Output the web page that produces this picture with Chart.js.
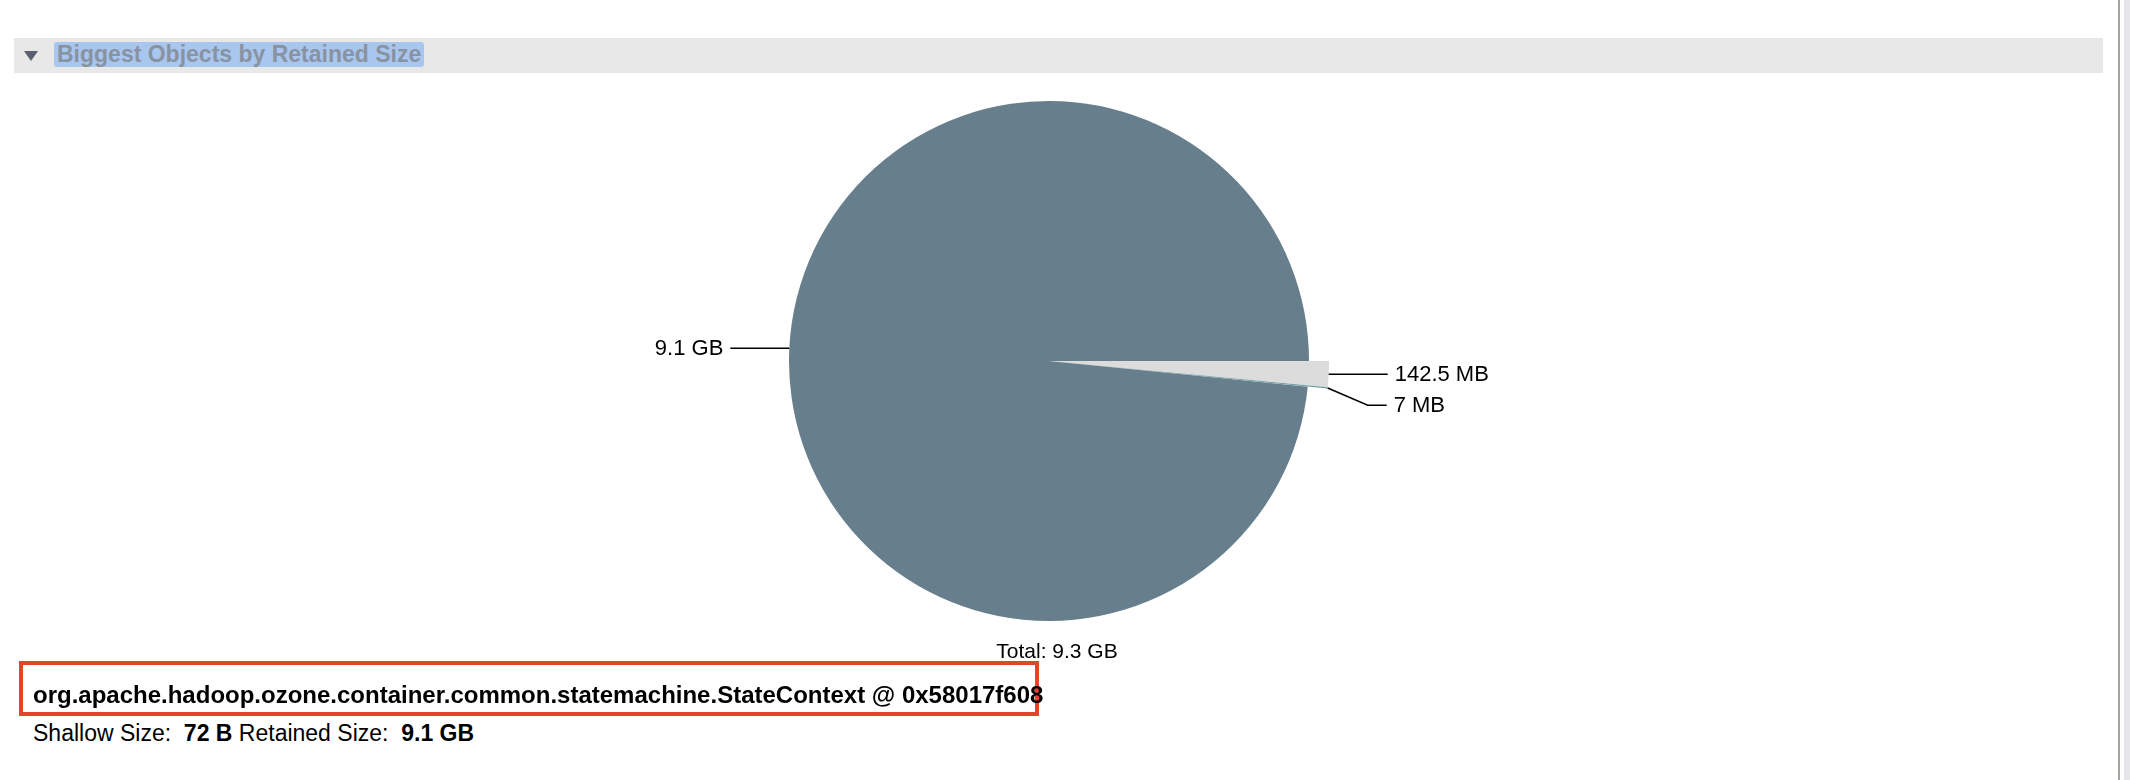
<!DOCTYPE html>
<html>
<head>
<meta charset="utf-8">
<script src="https://cdn.jsdelivr.net/npm/chart.js@4.4.1/dist/chart.umd.min.js"></script>
<style>
  body { margin: 0; background: #fff; font-family: "Liberation Sans", Arial, sans-serif; }
  #page { position: relative; width: 2130px; height: 780px; overflow: hidden; }
  .abs { position: absolute; }
  #header { left: 14px; top: 38px; width: 2089px; height: 35px; background: #e8e8e8; }
  #arrow { left: 24px; top: 51px; width: 0; height: 0;
    border-left: 7px solid transparent; border-right: 7px solid transparent; border-top: 10px solid #5b6170; }
  #title { left: 54px; top: 42px; height: 25px; line-height: 25px; padding: 0 3px;
    background: #a9c6ef; border-radius: 3px; color: #8893a2; font-weight: bold; font-size: 23px; white-space: nowrap; }
  #scroll1 { left: 2118px; top: 0; width: 2px; height: 780px; background: #a4a4a4; }
  #scroll2 { left: 2124px; top: 0; width: 6px; height: 780px; background: #e6e6ea; }
  #pie { left: 0; top: 81px; }
  #total { left: 857px; width: 400px; top: 637px; text-align: center; font-size: 21px; line-height: 28px; color: #000; }
  #redbox { left: 19px; top: 661px; width: 1020px; height: 55px; box-sizing: border-box; border: 4px solid #e5432b; }
  #objname { left: 33px; top: 681px; font-size: 24px; line-height: 28px; font-weight: bold; white-space: nowrap; }
  #sizes { left: 33px; top: 719px; font-size: 23px; line-height: 28px; white-space: nowrap; }
</style>
</head>
<body>
<div id="page">
  <div class="abs" id="header"></div>
  <div class="abs" id="arrow"></div>
  <div class="abs" id="title">Biggest Objects by Retained Size</div>
  <div class="abs" id="scroll1"></div>
  <div class="abs" id="scroll2"></div>
  <canvas class="abs" id="pie" width="2098" height="560"></canvas>
  <div class="abs" id="total"></div>
  <div class="abs" id="redbox"></div>
  <div class="abs" id="objname"></div>
  <div class="abs" id="sizes"></div>
</div>
<script>
// retained sizes in MB, clockwise from 3 o'clock
const sliceLabels = ['Child object 1', 'Child object 2', 'StateContext @ 0x58017f608'];
const retainedMB = [142.5, 7, 9359];
const sliceColors = ['#dcdcdc', '#6a9ea3', '#677e8c'];

const objectName = 'org.apache.hadoop.ozone.container.common.statemachine.StateContext @ 0x58017f608';
const shallowSize = '72 B';
const retainedSize = '9.1 GB';

function fmtSize(mb) {
    if (mb >= 1024) return (mb / 1024).toFixed(1) + ' GB';
    return (+mb.toFixed(1)) + ' MB';
}

const totalMB = retainedMB.reduce((a, b) => a + b, 0);
document.getElementById('total').textContent = 'Total: ' + fmtSize(totalMB);
document.getElementById('objname').textContent = objectName;
document.getElementById('sizes').innerHTML =
    'Shallow Size:&nbsp; <b>' + shallowSize + '</b> Retained Size:&nbsp; <b>' + retainedSize + '</b>';

// small slices stick out past the pie a little
const bumpPlugin = {
    id: 'bump',
    afterDatasetsUpdate(chart, args, opts) {
        const meta = chart.getDatasetMeta(0);
        meta.data.forEach((arc, i) => {
            if (opts.indexes.includes(i)) arc.outerRadius += opts.extra;
        });
    }
};

const leaderPlugin = {
    id: 'leaders',
    afterDatasetsDraw(chart) {
        const ctx = chart.ctx;
        const meta = chart.getDatasetMeta(0);
        const items = meta.data.map((arc, i) => {
            const p = arc.getProps(['x', 'y', 'startAngle', 'endAngle', 'outerRadius'], true);
            const mid = (p.startAngle + p.endAngle) / 2;
            const px = p.x + Math.cos(mid) * p.outerRadius;
            const py = p.y + Math.sin(mid) * p.outerRadius;
            return { i, px, py, ly: py, right: Math.cos(mid) >= 0 };
        });
        [true, false].forEach(side => {
            const grp = items.filter(it => it.right === side).sort((a, b) => a.ly - b.ly);
            for (let k = 1; k < grp.length; k++) {
                if (grp[k].ly - grp[k - 1].ly < 31) grp[k].ly = grp[k - 1].ly + 31;
            }
        });
        ctx.save();
        ctx.strokeStyle = '#000';
        ctx.lineWidth = 1.5;
        ctx.fillStyle = '#000';
        ctx.font = '22px "Liberation Sans", Arial, sans-serif';
        ctx.textBaseline = 'middle';
        items.forEach(it => {
            const dir = it.right ? 1 : -1;
            const ex = it.px + dir * 40;
            const endX = ex + dir * 19;
            ctx.beginPath();
            ctx.moveTo(it.px, it.py);
            ctx.lineTo(ex, it.ly);
            ctx.lineTo(endX, it.ly);
            ctx.stroke();
            ctx.textAlign = it.right ? 'left' : 'right';
            ctx.fillText(fmtSize(retainedMB[it.i]), endX + dir * 7, it.ly + 1);
        });
        ctx.restore();
    }
};

new Chart(document.getElementById('pie').getContext('2d'), {
    type: 'pie',
    data: {
        labels: sliceLabels,
        datasets: [{
            data: retainedMB,
            backgroundColor: sliceColors,
            borderWidth: 0
        }]
    },
    options: {
        responsive: false,
        animation: false,
        events: [],
        rotation: 90,
        layout: { padding: 20 },
        plugins: {
            legend: { display: false },
            tooltip: { enabled: false },
            bump: { indexes: [0, 1], extra: 20 }
        }
    },
    plugins: [bumpPlugin, leaderPlugin]
});
</script>
</body>
</html>
